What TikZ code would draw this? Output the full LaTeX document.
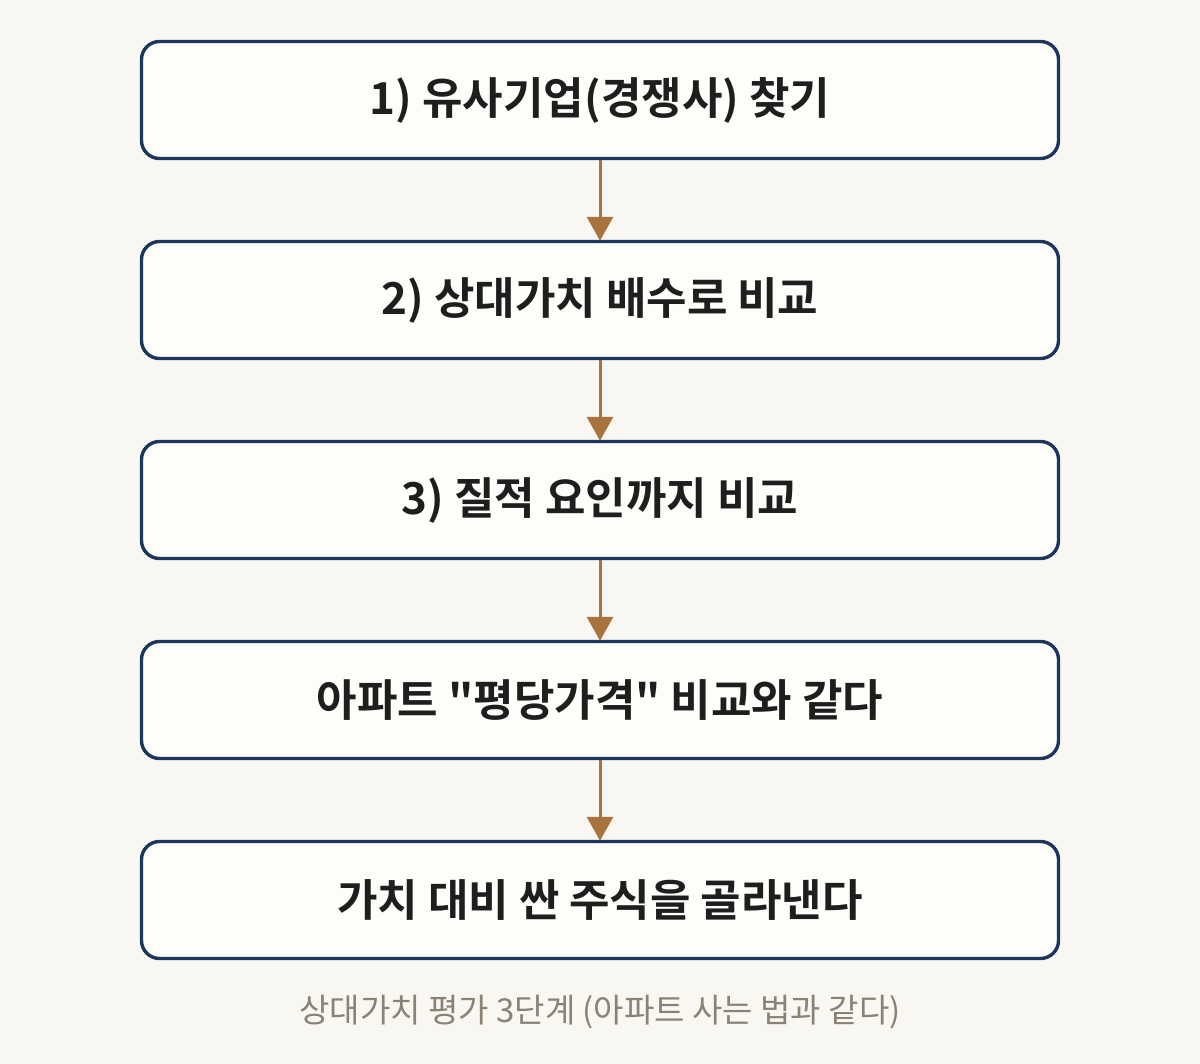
\documentclass[tikz,border=0pt]{standalone}
\usepackage{fontspec}
\setmainfont{Noto Sans CJK KR}
\newfontfamily\krb{Noto Sans CJK KR Bold}
\usetikzlibrary{arrows.meta}
\definecolor{bgc}{HTML}{F9F7F1}
\definecolor{boxfill}{HTML}{FEFDF9}
\definecolor{navy}{HTML}{1C375C}
\definecolor{arrowc}{HTML}{A8733F}
\definecolor{capc}{HTML}{8A8275}
\definecolor{txt}{HTML}{1E1E1E}
\tikzset{
  stepbox/.style={draw=navy, line width=3.4pt, fill=boxfill, rounded corners=18pt,
    minimum width=917pt, minimum height=117pt, inner sep=0pt,
    font=\krb\fontsize{44}{52}\selectfont, text=txt},
  flow/.style={draw=arrowc, line width=3pt, -{Triangle[width=26pt,length=24pt]}, shorten >=-1pt}
}
\begin{document}
\begin{tikzpicture}[x=1pt,y=-1pt]
\fill[bgc] (0,0) rectangle (1200,1064);
\useasboundingbox (0,0) rectangle (1200,1064);
\node[stepbox] (s1) at (600,100) {1) 유사기업(경쟁사) 찾기};
\node[stepbox] (s2) at (600,300) {2) 상대가치 배수로 비교};
\node[stepbox] (s3) at (600,500) {3) 질적 요인까지 비교};
\node[stepbox] (s4) at (600,700) {아파트 "평당가격" 비교와 같다};
\node[stepbox] (s5) at (600,900) {가치 대비 싼 주식을 골라낸다};
\draw[flow] (s1) -- (s2);
\draw[flow] (s2) -- (s3);
\draw[flow] (s3) -- (s4);
\draw[flow] (s4) -- (s5);
\node[font=\fontsize{33}{38}\selectfont, text=capc] (cap) at (600,1012) {상대가치 평가 3단계 (아파트 사는 법과 같다)};
\end{tikzpicture}
\end{document}
